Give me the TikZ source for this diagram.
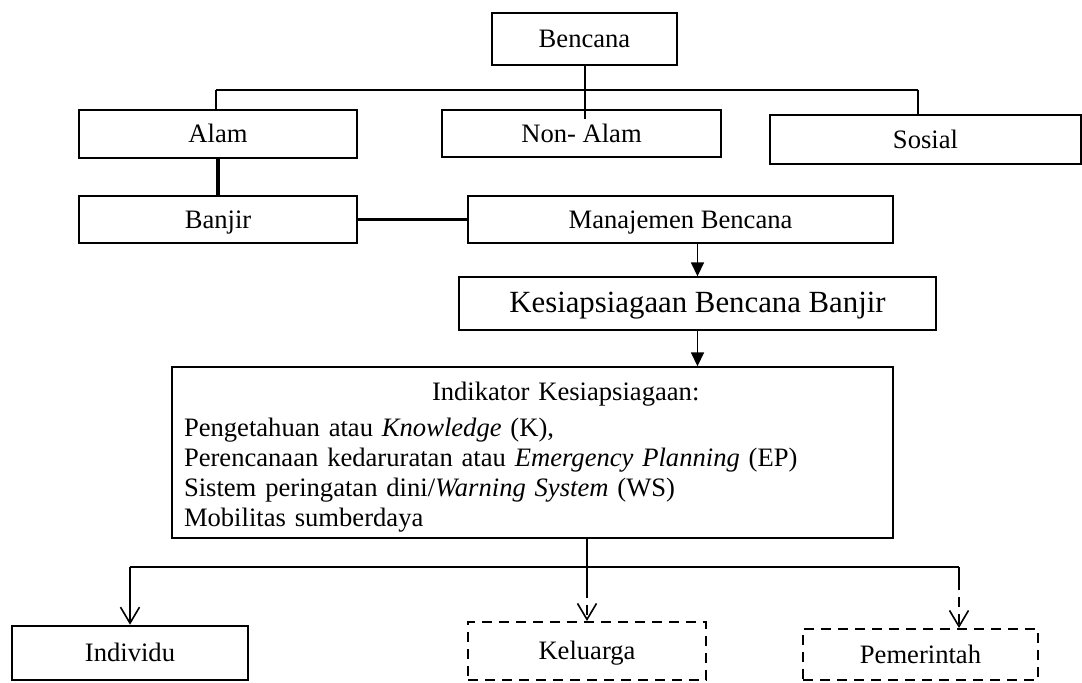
\documentclass[tikz,border=0pt]{standalone}
\usepackage{fontspec}
\setmainfont{Liberation Serif}
\usepackage{tikz}
\usetikzlibrary{calc, arrows.meta}

\tikzset{
  box/.style={draw, line width=0.7pt, inner sep=0pt, text height=1em, text depth=0.14em,
    font=\fontsize{13.3}{15}\selectfont},
  dashbox/.style={box, dash pattern=on 5pt off 3.5pt, line width=1pt},
  link/.style={line width=0.8pt},
  bar/.style={line width=1.3pt},
  dash line/.style={dash pattern=on 5pt off 3.5pt},
  open tip/.style={-{Straight Barb[length=8pt,width=9.5pt,line width=0.8pt]}},
  fill tip/.style={-{Triangle[length=7pt,width=6.5pt]}}
}

\begin{document}
\begin{tikzpicture}[x=0.5pt, y=-0.5pt]
	\useasboundingbox (0,0) rectangle (1082,682);
	% top level
	\node[box, name=bencana, minimum width=92.5pt, minimum height=26pt] at (584.5,39) {Bencana};
	\node[box, name=alam, minimum width=139pt, minimum height=24pt] at (218,134) {Alam};
	\node[box, name=nonalam, minimum width=139.5pt, minimum height=23.5pt] at (581.5,133.5) {Non- Alam};
	\node[box, name=sosial, minimum width=155.5pt, minimum height=24.5pt] at (925.5,139.5) {Sosial};
	\node[box, name=banjir, minimum width=139pt, minimum height=23.5pt] at (218,219.5) {Banjir};
	\node[box, name=manajemen, minimum width=212.5pt, minimum height=23.5pt] at (680.5,219.5) {Manajemen Bencana};
	\node[box, name=kesiap, minimum width=238.5pt, minimum height=26.5pt,
	font=\fontsize{15.4}{18}\selectfont] at (697.5,303.5) {Kesiapsiagaan Bencana Banjir};
	\node[box, name=indikator, minimum width=360.5pt, minimum height=85.5pt, text height=, text depth=,
	inner xsep=6pt, text width=348.5pt, align=left] at (532.5,452.5)
	{\rule{0pt}{14pt}\hspace*{124pt}Indikator Kesiapsiagaan:\\[3pt]
	Pengetahuan atau \textit{Knowledge} (K),\\
	Perencanaan kedaruratan atau \textit{Emergency Planning} (EP)\\
	Sistem peringatan dini/\textit{Warning System} (WS)\\
	Mobilitas sumberdaya};
	% bottom level
	\node[box, name=individu, line width=1.3pt, minimum width=118pt, minimum height=27pt] at (130,653) {Individu};
	\node[dashbox, name=keluarga, minimum width=119pt, minimum height=29pt] at (587,651) {Keluarga};
	\node[dashbox, name=pemerintah, minimum width=117.5pt, minimum height=25.5pt] at (920.5,654.5) {Pemerintah};

	\coordinate (busL) at (216,90);
	\coordinate (busR) at (918,90);
	\coordinate (lowL) at (130,567);
	\coordinate (lowR) at (959,567);
	\coordinate (split) at (587,588);
	\coordinate (pemR) at (959,580);

	\draw[line width=1pt] (bencana.south) -- ($(bencana.south |- nonalam.north)+(0,10)$);
	\draw[bar] (busL) -- (busR);
	\draw[link] (busL) -- (busL |- alam.north);
	\draw[link] (busR) -- (busR |- sosial.north);
	\draw[line width=2.2pt] (alam.south) -- (banjir.north);
	\draw[bar] (banjir.east) -- (manajemen.west);
	\draw[link, fill tip] (kesiap.north |- manajemen.south) -- (kesiap.north);
	\draw[link, fill tip] (kesiap.south) -- (kesiap.south |- indikator.north);

	\draw[bar] (lowL) -- (lowR);
	\draw[link] (keluarga.north |- indikator.south) -- (split);
	\draw[link, dash line, open tip] (split) -- (keluarga.north);
	\draw[link, open tip] (lowL) -- (individu.north);
	\draw[link] (lowR) -- (pemR);
	\draw[link, dash line, open tip] (pemR) -- (pemR |- pemerintah.north);
\end{tikzpicture}
\end{document}
